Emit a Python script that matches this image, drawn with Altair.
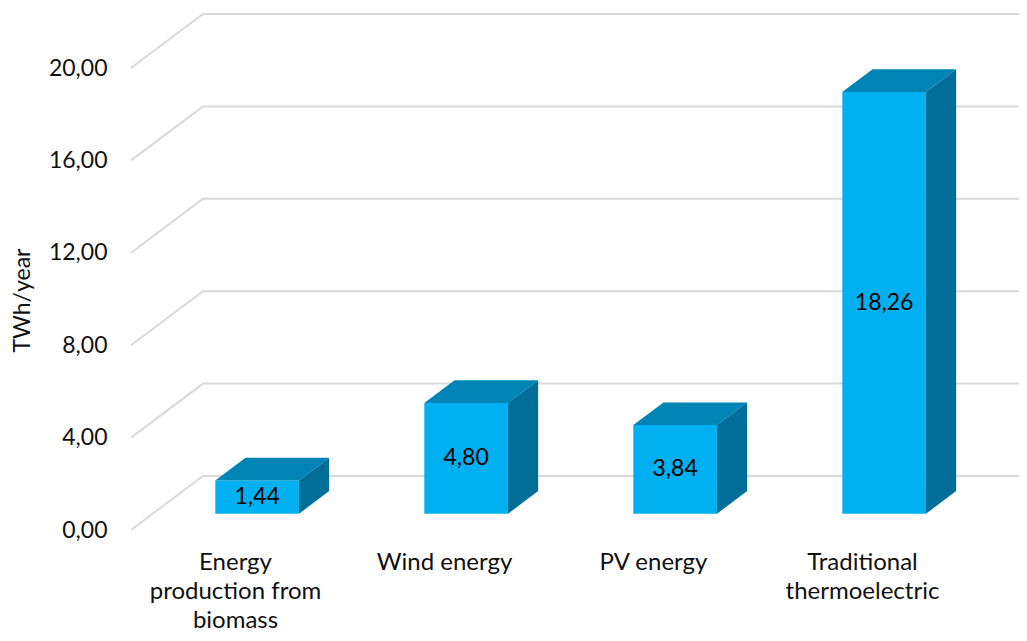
import altair as alt
import pandas as pd

# ---- data ----
categories = ["Energy\nproduction from\nbiomass", "Wind energy", "PV energy", "Traditional\nthermoelectric"]
values = [1.44, 4.80, 3.84, 18.26]
tick_values = [0, 4, 8, 12, 16, 20]

# ---- layout / 3D projection (style constants) ----
W, H = 888, 625
PAD_L, PAD_T = 123, 0
PX_PER_CAT = 209.0
PX_PER_VAL = 23.1
ZERO_PX = 522.0
X_MAX = W / PX_PER_CAT
Y_MAX = ZERO_PX / PX_PER_VAL
Y_MIN = -(H - ZERO_PX) / PX_PER_VAL
DXW = 72 / PX_PER_CAT      # depth shift (x) from front plane to back wall
DYW = 54 / PX_PER_VAL      # depth shift (y) from front plane to back wall
ZF, ZB = 0.30, 0.72        # depth of bar front / back faces
HALF = 0.2                 # half bar width in category units
LABEL_Y = -40 / PX_PER_VAL

FONT = "Lato"
FS = 23
TXT = "#111111"

xs = alt.Scale(domain=[0, X_MAX], nice=False, zero=False)
ys = alt.Scale(domain=[Y_MIN, Y_MAX], nice=False, zero=False)

front_rows, top_rows, side_rows, lab_rows, cat_rows = [], [], [], [], []
for i, (c, v) in enumerate(zip(categories, values)):
    L = i + 0.5 - HALF
    R = i + 0.5 + HALF
    front_rows.append(dict(bar=i, x=L + ZF * DXW, x2=R + ZF * DXW, y=ZF * DYW, y2=v + ZF * DYW))
    top_rows.append(dict(bar=i, y=v + ZF * DYW, x=L + ZF * DXW, x2=R + ZF * DXW))
    top_rows.append(dict(bar=i, y=v + ZB * DYW, x=L + ZB * DXW, x2=R + ZB * DXW))
    side_rows.append(dict(bar=i, x=R + ZF * DXW, y=ZF * DYW, y2=v + ZF * DYW))
    side_rows.append(dict(bar=i, x=R + ZB * DXW, y=ZB * DYW, y2=v + ZB * DYW))
    lab_rows.append(dict(x=i + 0.5 + ZF * DXW, y=v / 2 + ZF * DYW,
                         t=f"{v:.2f}".replace(".", ",")))
    cat_rows.append(dict(x=i + 0.5, y=LABEL_Y, t=c))

grid_rows = []
for t in tick_values:
    grid_rows.append(dict(t=t, k=0, x=0.0, y=t))
    grid_rows.append(dict(t=t, k=1, x=DXW, y=t + DYW))
    grid_rows.append(dict(t=t, k=2, x=X_MAX, y=t + DYW))

yaxis = alt.Axis(
    values=tick_values,
    labelExpr="replace(format(datum.value, '.2f'), '.', ',')",
    grid=False, domain=False, ticks=False, tickSize=0, labelPadding=24,
    labelFont=FONT, labelFontSize=FS, labelColor=TXT,
    title="TWh/year", titleFont=FONT, titleFontSize=FS, titleFontWeight="normal",
    titleColor=TXT, titleX=-109, titleY=292, titleAngle=270,
    titleAlign="center", titleBaseline="middle",
)


def Y(field, **kw):
    return alt.Y(field, scale=ys, axis=yaxis, title="TWh/year", **kw)


def X(field, **kw):
    return alt.X(field, scale=xs, axis=None, title=None, **kw)


grid = alt.Chart(pd.DataFrame(grid_rows)).mark_line(color="#D9D9D9", strokeWidth=2).encode(
    x=X("x:Q"), y=Y("y:Q"), detail="t:N", order="k:Q",
)

front = alt.Chart(pd.DataFrame(front_rows)).mark_rect(color="#00B0F0").encode(
    x=X("x:Q"), x2="x2:Q", y=Y("y:Q"), y2="y2:Q",
)

top = alt.Chart(pd.DataFrame(top_rows)).mark_area(orient="horizontal", color="#0084B6", opacity=1).encode(
    y=Y("y:Q"), x=X("x:Q", stack=None), x2="x2:Q", detail="bar:N",
)

side = alt.Chart(pd.DataFrame(side_rows)).mark_area(orient="vertical", color="#006E99", opacity=1).encode(
    x=X("x:Q"), y=Y("y:Q", stack=None), y2="y2:Q", detail="bar:N",
)

vlabels = alt.Chart(pd.DataFrame(lab_rows)).mark_text(
    font=FONT, fontSize=FS, color="#000000", baseline="middle", align="center"
).encode(
    x=X("x:Q"), y=Y("y:Q"), text="t:N",
)

clabels = alt.Chart(pd.DataFrame(cat_rows)).mark_text(
    font=FONT, fontSize=24, color=TXT, baseline="alphabetic", align="center",
    lineBreak="\n", lineHeight=29,
).encode(
    x=X("x:Q"), y=Y("y:Q"), text="t:N",
)

chart = alt.layer(grid, front, top, side, vlabels, clabels).properties(
    width=W, height=H,
    autosize=alt.AutoSizeParams(type="none"),
    padding={"left": PAD_L, "top": PAD_T, "right": 0, "bottom": 0},
).configure_view(stroke=None)

chart.save("out.html", embed_options={"renderer": "svg", "actions": False})
